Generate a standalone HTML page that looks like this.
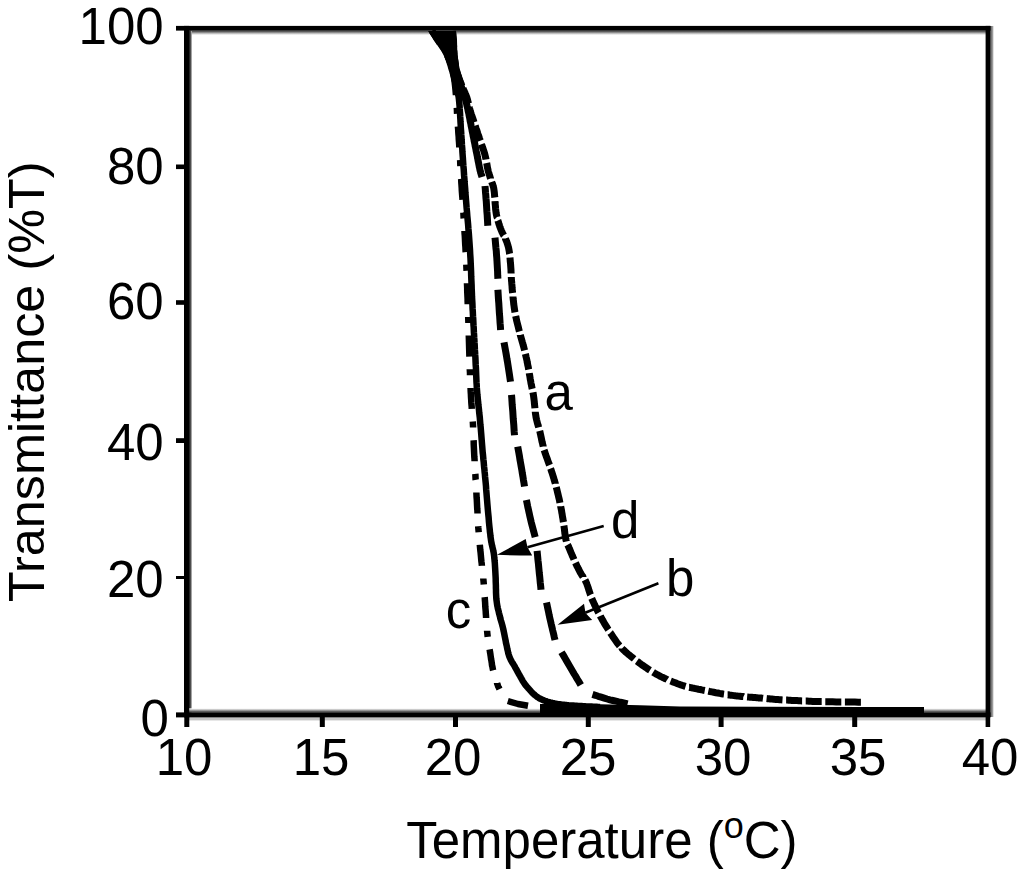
<!DOCTYPE html>
<html><head><meta charset="utf-8"><title>Transmittance vs Temperature</title>
<style>
html,body{margin:0;padding:0;background:#fff;width:1024px;height:874px;overflow:hidden;}
svg{display:block;}
text{font-family:"Liberation Sans",sans-serif;fill:#000;}
</style></head><body>
<svg width="1024" height="874" viewBox="0 0 1024 874">
<rect x="0" y="0" width="1024" height="874" fill="#fff"/>
<!-- gray fringes -->
<defs>
<linearGradient id="gTop" x1="0" y1="0" x2="0" y2="1"><stop offset="0" stop-color="#2a2a2a"/><stop offset="0.35" stop-color="#777"/><stop offset="0.7" stop-color="#c8c8c8"/><stop offset="1" stop-color="#fff"/></linearGradient>
<linearGradient id="gBot" x1="0" y1="1" x2="0" y2="0"><stop offset="0" stop-color="#2a2a2a"/><stop offset="0.35" stop-color="#777"/><stop offset="0.7" stop-color="#c8c8c8"/><stop offset="1" stop-color="#fff"/></linearGradient>
<linearGradient id="gLeft" x1="0" y1="0" x2="1" y2="0"><stop offset="0" stop-color="#222"/><stop offset="0.6" stop-color="#555"/><stop offset="1" stop-color="#ddd"/></linearGradient>
<linearGradient id="gRight" x1="0" y1="0" x2="1" y2="0"><stop offset="0" stop-color="#555"/><stop offset="0.6" stop-color="#8a8a8a"/><stop offset="1" stop-color="#e0e0e0"/></linearGradient>
</defs>
<rect x="189" y="30.5" width="797" height="4.5" fill="url(#gTop)"/>
<rect x="189" y="30.5" width="3" height="682" fill="url(#gLeft)"/>
<rect x="189" y="708.3" width="797" height="4.2" fill="url(#gBot)"/>
<rect x="186" y="717.4" width="800" height="3" fill="#c4c4c4"/>
<rect x="990" y="26" width="3.7" height="691" fill="url(#gRight)"/>
<!-- frame -->
<g fill="#000">
<rect x="176" y="25.9" width="814.5" height="4.7"/>
<rect x="184" y="25.9" width="5.2" height="691.5"/>
<rect x="176" y="712.4" width="814.5" height="5"/>
<rect x="985.6" y="25.9" width="4.6" height="701.1"/>
<!-- y ticks -->
<rect x="176" y="164.5" width="10" height="4.6"/>
<rect x="176" y="300.2" width="10" height="4.6"/>
<rect x="176" y="438.2" width="10" height="4.8"/>
<rect x="176" y="576" width="10" height="3"/>
<!-- x ticks -->
<rect x="184.3" y="715" width="5" height="12"/>
<rect x="319.8" y="715" width="5" height="12"/>
<rect x="453" y="715" width="5" height="12"/>
<rect x="585.8" y="715" width="5" height="12"/>
<rect x="718.6" y="715" width="5" height="12"/>
<rect x="852.2" y="715" width="5" height="12"/>
</g>
<!-- tick labels -->
<g font-size="51" text-anchor="end">
<text x="163.7" y="44.3">100</text>
<text x="163.7" y="184.2">80</text>
<text x="163.7" y="319.3">60</text>
<text x="163.7" y="459.5">40</text>
<text x="163.7" y="597.2">20</text>
<text x="168.8" y="735.8">0</text>
</g>
<g font-size="51" text-anchor="middle">
<text x="184" y="775">10</text>
<text x="321" y="775">15</text>
<text x="453" y="775">20</text>
<text x="588" y="775">25</text>
<text x="723" y="775">30</text>
<text x="858" y="775">35</text>
<text x="990" y="775">40</text>
</g>
<!-- axis titles -->
<text font-size="51" x="406.2" y="858.2">Temperature (<tspan font-size="36" dy="-20.3">o</tspan><tspan dy="20.3">C)</tspan></text>
<text font-size="50.4" transform="translate(43.6,602) rotate(-90)">Transmittance (%T)</text>

<!-- curves -->
<g id="curves" fill="none" stroke="#000" stroke-linecap="butt" stroke-linejoin="round">
<path d="M428 31 L456 31 L457 40 L457.4 55 L459.8 70 L463 80 L466 92 L456 92 L453 85 L449.5 70 L444 55 L433.7 40 Z" fill="#000" stroke="none"/>
<path d="M540 704 L560 703.8 L600 704.3 L640 705.3 L680 706.4 L760 706.8 L862 706.9 L924 707 L924 713 L540 713 Z" fill="#000" stroke="none"/>
<path d="M432.0 31.0 L432.7 31.9 L433.3 32.8 L434.0 33.7 L434.7 34.6 L435.4 35.5 L436.1 36.4 L436.7 37.3 L437.4 38.2 L438.1 39.1 L438.7 40.1 L439.4 41.0 L440.0 42.0 L440.6 43.0 L441.2 44.0 L441.9 45.1 L442.5 46.1 L443.1 47.2 L443.7 48.2 L444.3 49.3 L444.9 50.4 L445.4 51.6 L446.0 52.7 L446.5 53.8 L447.0 55.0 L447.5 56.2 L448.0 57.4 L448.4 58.6 L448.9 59.9 L449.3 61.1 L449.7 62.4 L450.1 63.6 L450.5 64.9 L450.9 66.2 L451.2 67.5 L451.6 68.7 L452.0 70.0 L452.4 71.2 L452.7 72.5 L453.1 73.8 L453.4 75.0 L453.8 76.2 L454.1 77.5 L454.5 78.8 L454.8 80.0 L455.1 81.2 L455.4 82.5 L455.7 83.8 L456.0 85.0 L456.3 86.2 L456.6 87.3 L456.8 88.4 L457.1 89.4 L457.4 90.5 L457.6 91.6 L457.9 92.7 L458.1 93.9 L458.3 95.2 L458.6 96.6 L458.8 98.2 L459.0 100.0 L459.2 102.0 L459.4 104.1 L459.6 106.4 L459.7 108.9 L459.9 111.4 L460.1 114.1 L460.2 116.7 L460.4 119.4 L460.5 122.1 L460.7 124.8 L460.8 127.5 L461.0 130.0 L461.2 132.5 L461.3 134.9 L461.5 137.3 L461.6 139.6 L461.8 142.0 L461.9 144.4 L462.1 146.8 L462.3 149.3 L462.4 151.8 L462.6 154.4 L462.8 157.1 L463.0 160.0 L463.2 163.0 L463.4 166.0 L463.7 169.1 L463.9 172.2 L464.1 175.5 L464.4 178.8 L464.6 182.1 L464.9 185.6 L465.2 189.1 L465.4 192.6 L465.7 196.3 L466.0 200.0 L466.3 203.8 L466.6 207.8 L467.0 211.8 L467.3 215.9 L467.7 220.1 L468.1 224.4 L468.4 228.7 L468.8 233.0 L469.1 237.3 L469.4 241.6 L469.7 245.8 L470.0 250.0 L470.2 254.2 L470.5 258.6 L470.7 263.0 L470.9 267.4 L471.1 271.8 L471.2 276.2 L471.4 280.6 L471.6 284.8 L471.7 288.9 L471.9 292.8 L472.0 296.5 L472.2 300.0 L472.4 303.2 L472.5 306.2 L472.6 308.9 L472.8 311.5 L472.9 313.9 L473.0 316.2 L473.2 318.5 L473.3 320.7 L473.4 323.0 L473.5 325.2 L473.7 327.6 L473.8 330.0 L473.9 332.5 L474.1 335.0 L474.2 337.5 L474.4 340.0 L474.5 342.5 L474.7 345.0 L474.8 347.5 L474.9 350.0 L475.1 352.5 L475.2 355.0 L475.4 357.5 L475.5 360.0 L475.6 362.5 L475.7 365.0 L475.9 367.5 L476.0 370.0 L476.1 372.5 L476.2 375.0 L476.3 377.5 L476.4 380.0 L476.5 382.5 L476.7 385.0 L476.8 387.5 L477.0 390.0 L477.2 392.5 L477.4 395.0 L477.7 397.5 L477.9 400.0 L478.2 402.5 L478.4 405.0 L478.7 407.5 L479.0 410.0 L479.2 412.5 L479.5 415.0 L479.8 417.5 L480.0 420.0 L480.2 422.5 L480.4 425.0 L480.7 427.5 L480.9 430.0 L481.1 432.5 L481.3 435.0 L481.5 437.5 L481.7 440.0 L481.9 442.5 L482.1 445.0 L482.3 447.5 L482.5 450.0 L482.7 452.5 L483.0 454.9 L483.2 457.3 L483.4 459.6 L483.7 462.0 L483.9 464.4 L484.1 466.8 L484.4 469.3 L484.6 471.8 L484.9 474.4 L485.1 477.1 L485.4 480.0 L485.7 483.0 L486.0 486.3 L486.2 489.8 L486.5 493.3 L486.8 497.0 L487.1 500.6 L487.4 504.2 L487.7 507.8 L488.0 511.2 L488.3 514.4 L488.6 517.3 L488.8 520.0 L489.0 522.4 L489.2 524.5 L489.4 526.5 L489.6 528.3 L489.8 530.0 L489.9 531.6 L490.1 533.0 L490.3 534.4 L490.4 535.8 L490.6 537.2 L490.8 538.6 L491.0 540.0 L491.2 541.4 L491.5 542.7 L491.7 544.0 L492.0 545.2 L492.3 546.4 L492.5 547.5 L492.8 548.6 L493.1 549.8 L493.3 551.0 L493.6 552.3 L493.8 553.6 L494.0 555.0 L494.2 556.5 L494.3 558.0 L494.5 559.5 L494.6 561.1 L494.8 562.7 L494.9 564.4 L495.0 566.1 L495.1 567.8 L495.2 569.5 L495.3 571.3 L495.4 573.1 L495.5 575.0 L495.6 576.9 L495.7 579.0 L495.7 581.1 L495.8 583.3 L495.9 585.6 L495.9 587.8 L496.0 590.0 L496.0 592.2 L496.1 594.3 L496.2 596.4 L496.3 598.3 L496.5 600.0 L496.7 601.6 L496.9 603.1 L497.1 604.5 L497.3 605.8 L497.6 607.1 L497.8 608.2 L498.1 609.4 L498.4 610.5 L498.7 611.6 L498.9 612.7 L499.2 613.9 L499.5 615.0 L499.8 616.1 L500.1 617.2 L500.3 618.3 L500.6 619.3 L500.9 620.4 L501.2 621.4 L501.5 622.4 L501.8 623.4 L502.1 624.5 L502.4 625.6 L502.7 626.8 L503.0 628.0 L503.3 629.3 L503.6 630.7 L503.9 632.1 L504.2 633.6 L504.5 635.1 L504.8 636.6 L505.1 638.1 L505.4 639.6 L505.7 641.0 L505.9 642.4 L506.2 643.7 L506.5 645.0 L506.8 646.2 L507.0 647.3 L507.2 648.4 L507.4 649.4 L507.7 650.5 L507.9 651.4 L508.1 652.4 L508.3 653.3 L508.6 654.3 L508.9 655.2 L509.2 656.1 L509.5 657.0 L509.9 657.9 L510.3 658.8 L510.7 659.7 L511.2 660.5 L511.6 661.4 L512.1 662.2 L512.6 663.0 L513.1 663.8 L513.6 664.6 L514.1 665.4 L514.6 666.2 L515.0 667.0 L515.4 667.8 L515.9 668.6 L516.3 669.3 L516.7 670.1 L517.1 670.8 L517.5 671.6 L517.9 672.3 L518.3 673.0 L518.7 673.8 L519.1 674.5 L519.6 675.3 L520.0 676.0 L520.4 676.7 L520.8 677.5 L521.2 678.2 L521.6 678.9 L522.0 679.6 L522.4 680.4 L522.8 681.1 L523.3 681.9 L523.8 682.6 L524.3 683.4 L524.9 684.2 L525.5 685.0 L526.2 685.9 L527.0 686.8 L527.8 687.7 L528.6 688.7 L529.5 689.7 L530.4 690.7 L531.3 691.7 L532.3 692.7 L533.2 693.6 L534.2 694.5 L535.1 695.3 L536.0 696.0 L536.9 696.7 L537.8 697.3 L538.6 697.8 L539.5 698.3 L540.4 698.8 L541.3 699.2 L542.2 699.7 L543.1 700.1 L544.0 700.4 L545.0 700.8 L546.0 701.1 L547.0 701.5 L548.0 701.8 L549.1 702.2 L550.2 702.5 L551.3 702.7 L552.4 703.0 L553.5 703.2 L554.7 703.5 L555.9 703.7 L557.1 703.9 L558.3 704.1 L559.6 704.3 L561.0 704.5 L562.4 704.7 L563.9 704.8 L565.4 705.0 L566.9 705.1 L568.5 705.3 L570.1 705.4 L571.8 705.5 L573.4 705.6 L575.1 705.7 L576.7 705.8 L578.4 705.9 L580.0 706.0 L581.6 706.1 L583.3 706.2 L584.9 706.3 L586.6 706.4 L588.3 706.5 L589.9 706.5 L591.6 706.6 L593.3 706.7 L595.0 706.8 L596.7 706.8 L598.3 706.9 L600.0 707.0" stroke-width="6.5"/>
<path d="M432.0 31.0 L432.5 31.7 L432.9 32.4 L433.3 33.1 L433.7 33.8 L434.1 34.4 L434.6 35.1 L435.0 35.8 L435.5 36.6 L435.9 37.3 L436.4 38.2 L437.0 39.0 L437.6 40.0 L438.3 41.0 L439.0 42.2 L439.5 42.9 M447.2 55.5 L447.6 56.2 L448.2 57.4 L448.7 58.6 L449.2 59.8 L449.7 61.0 L449.9 61.5 M453.4 74.2 L453.4 74.4 L453.7 75.9 L454.0 77.5 L454.2 79.1 L454.4 80.7 L454.7 82.4 L454.9 84.2 L455.1 86.0 L455.3 88.0 L455.5 90.0 L455.7 92.1 L455.9 94.4 L455.9 95.2 M456.8 107.8 L456.9 109.6 L457.0 112.3 L457.1 113.8 M457.9 126.5 L458.0 127.4 L458.2 129.8 L458.3 132.2 L458.5 134.7 L458.7 137.1 L458.8 139.6 L459.0 142.1 L459.2 144.7 L459.3 147.3 L459.3 147.5 M460.1 160.1 L460.2 161.5 L460.3 164.5 L460.4 166.1 M461.1 178.8 L461.2 179.4 L461.3 182.2 L461.5 185.0 L461.7 187.7 L461.8 190.3 L462.0 193.0 L462.2 195.6 L462.4 198.1 L462.5 199.8 M463.3 212.4 L463.4 212.7 L463.5 215.0 L463.6 217.3 L463.7 218.4 M464.5 231.1 L464.5 231.7 L464.6 233.7 L464.8 235.8 L464.9 237.9 L465.0 240.0 L465.1 242.2 L465.2 244.4 L465.4 246.6 L465.5 248.8 L465.6 251.1 L465.7 252.1 M466.3 264.7 L466.3 264.7 L466.4 267.0 L466.5 269.3 L466.6 270.7 M467.0 283.3 L467.0 283.5 L467.1 285.9 L467.2 288.2 L467.2 290.5 L467.3 292.8 L467.4 295.0 L467.5 297.1 L467.6 299.2 L467.6 301.1 L467.7 303.0 L467.7 304.3 M468.2 317.0 L468.2 317.4 L468.3 320.0 L468.4 322.8 L468.4 323.0 M468.8 335.6 L468.8 335.8 L468.9 339.2 L469.0 342.8 L469.1 346.3 L469.2 349.9 L469.3 353.3 L469.4 356.6 M469.8 369.3 L469.8 369.7 L470.0 372.9 L470.0 375.3 M470.6 387.9 L470.6 388.5 L470.7 391.4 L470.9 394.2 L471.0 397.0 L471.2 399.7 L471.3 402.2 L471.5 404.7 L471.7 407.1 L471.8 408.9 M472.8 421.6 L472.9 422.8 L473.0 425.0 L473.1 427.2 L473.1 427.6 M473.6 440.2 L473.7 441.6 L473.7 443.7 L473.8 445.8 L473.9 447.9 L474.0 450.0 L474.1 452.2 L474.2 454.4 L474.3 456.6 L474.5 458.9 L474.6 461.1 L474.6 461.2 M475.3 473.9 L475.4 474.7 L475.5 477.0 L475.6 479.3 L475.7 479.9 M476.4 492.5 L476.4 492.8 L476.5 495.1 L476.6 497.3 L476.8 499.6 L476.9 501.8 L477.0 504.0 L477.1 506.2 L477.2 508.4 L477.4 510.5 L477.5 512.7 L477.5 513.5 M478.2 526.2 L478.3 527.8 L478.5 530.0 L478.7 532.2 M479.8 544.8 L479.9 545.8 L480.1 548.0 L480.3 550.3 L480.6 552.5 L480.8 554.8 L481.0 557.0 L481.2 559.2 L481.4 561.4 L481.7 563.6 L481.9 565.7 L481.9 565.8 M483.3 578.5 L483.3 578.7 L483.5 580.8 L483.7 583.0 L483.8 584.5 M484.7 597.1 L484.8 598.2 L484.9 600.3 L485.1 602.5 L485.2 604.7 L485.3 606.8 L485.5 609.0 L485.7 611.2 L485.8 613.4 L486.0 615.6 L486.1 617.9 L486.1 618.1 M487.1 630.8 L487.1 631.0 L487.3 633.0 L487.5 635.0 L487.7 636.8 M489.6 649.4 L489.8 650.5 L490.0 652.0 L490.3 653.5 L490.5 655.0 L490.7 656.4 L490.9 657.8 L491.1 659.2 L491.4 660.6 L491.6 661.9 L491.8 663.1 L491.9 664.4 L492.1 665.6 L492.4 666.7 L492.6 667.8 L492.8 668.9 L493.0 670.0 L493.1 670.4 M497.1 683.1 L497.1 683.3 L497.4 684.1 L497.7 684.9 L498.0 685.8 L498.3 686.6 L498.7 687.4 L499.1 688.3 L499.5 689.1 M507.8 701 L518 704 L528 705.8" stroke-width="6.5"/>
<path d="M452.0 31.0 L452.1 32.2 L452.2 33.3 L452.2 34.5 L452.3 35.7 L452.4 36.9 L452.5 38.1 L452.6 39.2 L452.7 40.4 L452.8 41.6 L452.8 42.7 L452.9 43.9 L453.0 45.0 L453.1 46.1 L453.1 47.2 L453.2 48.3 L453.3 49.4 L453.3 50.4 L453.4 51.5 L453.5 52.6 L453.6 53.6 L453.6 54.7 L453.7 55.8 L453.9 56.9 L454.0 58.0 L454.1 59.1 L454.3 60.3 L454.5 61.4 L454.6 62.6 L454.8 63.8 L455.0 64.9 L455.2 66.1 L455.5 67.3 L455.7 68.5 L456.0 69.7 L456.2 70.8 L456.5 72.0 L456.8 73.2 L457.1 74.4 L457.5 75.5 L457.9 76.7 L458.3 77.9 L458.7 79.1 L459.1 80.3 L459.5 81.5 L459.9 82.6 L460.3 83.8 L460.6 84.9 L461.0 86.0 L461.4 87.1 L461.7 88.1 L462.1 89.1 L462.4 90.1 L462.8 91.1 L463.1 92.1 L463.4 93.1 L463.8 94.1 L464.1 95.0 L464.4 96.0 L464.7 97.0 L465.0 98.0 L465.3 99.0 L465.6 100.0 L465.8 100.9 L466.1 101.9 L466.3 102.8 L466.6 103.8 L466.8 104.8 L467.0 105.8 L467.3 106.8 L467.5 107.8 L467.8 108.9 L468.0 110.0 L468.2 111.1 L468.5 112.3 L468.8 113.5 L469.0 114.8 L469.2 116.0 L469.5 117.3 L469.8 118.6 L470.0 119.9 L470.2 121.2 L470.5 122.5 L470.8 123.7 L471.0 125.0 L471.2 126.2 L471.5 127.5 L471.8 128.8 L472.0 130.0 L472.2 131.2 L472.5 132.5 L472.8 133.8 L473.0 135.0 L473.2 136.2 L473.5 137.5 L473.8 138.8 L474.0 140.0 L474.2 141.2 L474.5 142.5 L474.8 143.8 L475.0 145.0 L475.2 146.2 L475.5 147.5 L475.8 148.8 L476.0 150.0 L476.2 151.2 L476.5 152.5 L476.8 153.8 L477.0 155.0 L477.3 156.3 L477.5 157.6 L477.8 158.9 L478.0 160.3 L478.3 161.7 L478.6 163.0 L478.8 164.3 L479.1 165.6 L479.3 166.8 L479.6 168.0 L479.8 169.0 L480.0 170.0 L480.2 170.9 L480.4 171.6 L480.6 172.3 L480.7 172.9 L480.9 173.5 L481.1 174.0 L481.2 174.5 L481.4 175.0 L481.5 175.4 L481.7 175.9 L481.8 176.4 L482.0 177.0 M485.0 186.0 L485.3 189.1 L485.5 192.3 L485.8 195.4 L486.0 198.5 L486.3 201.7 L486.5 205.0 L486.7 208.4 L486.9 211.8 L487.2 215.2 L487.4 218.7 L487.6 222.2 L487.8 225.7 M495.0 237.6 L495.3 241.0 L495.6 244.4 L495.9 247.8 L496.3 251.2 L496.5 254.6 L496.8 258.0 L497.0 261.4 L497.2 264.9 L497.4 268.4 L497.6 271.9 L497.7 275.3 L497.9 278.8 M497.9 289.7 L498.1 293.1 L498.3 296.5 L498.5 299.9 L498.8 303.3 L499.0 306.6 L499.2 310.0 L499.4 313.4 L499.7 316.7 L499.9 320.0 L500.1 323.3 L500.4 326.7 L500.6 330.0 M504.0 342.4 L504.6 345.7 L505.2 348.9 L505.8 352.2 L506.4 355.5 L506.9 358.7 L507.5 362.0 L508.0 365.3 L508.5 368.6 L509.0 371.8 L509.5 375.1 L510.0 378.4 L510.5 381.7 M511.5 394.9 L511.8 398.2 L512.0 401.6 L512.2 404.9 L512.5 408.3 L512.8 411.6 L513.0 415.0 L513.2 418.4 L513.5 421.7 L513.8 425.1 L514.0 428.5 L514.2 431.8 L514.5 435.2 M517.7 446.6 L518.3 449.9 L518.9 453.2 L519.5 456.5 L520.0 459.9 L520.6 463.2 L521.2 466.5 L521.8 469.8 L522.3 473.2 L522.9 476.5 L523.4 479.8 L524.0 483.2 L524.5 486.5 M526.4 500.1 L527.1 503.3 L527.7 506.4 L528.4 509.6 L529.1 512.8 L529.8 515.9 L530.5 519.0 L531.2 522.1 L532.0 525.1 L532.8 528.1 L533.6 531.2 L534.4 534.2 L535.2 537.2 M537.1 550.8 L537.4 554.0 L537.7 557.2 L538.0 560.4 L538.4 563.6 L538.7 566.8 L539.0 570.0 L539.3 573.3 L539.7 576.5 L540.0 579.8 L540.3 583.1 L540.7 586.4 L541.0 589.7 M546.5 602.5 L547.2 605.6 L547.8 608.6 L548.5 611.7 L549.1 614.8 L549.8 617.9 L550.5 621.0 L551.2 624.1 L552.0 627.3 L552.7 630.5 L553.5 633.6 L554.2 636.8 L555.0 640.0 M561.5 652.2 L563.1 654.9 L564.7 657.6 L566.2 660.3 L567.8 663.1 L569.4 665.8 L571.0 668.5 L572.6 671.2 L574.2 674.0 L575.9 676.7 L577.5 679.5 L579.2 682.2 L580.8 685.0 M592.5 694.4 L595.4 695.3 L598.3 696.3 L601.2 697.2 L604.2 698.1 L607.1 699.0 L610.0 699.8 L612.9 700.5 L615.9 701.2 L618.8 701.9 L621.7 702.5 L624.7 703.1 L627.6 703.8" stroke-width="7"/>
<path d="M452.5 31.0 L452.6 32.2 L452.7 33.3 L452.8 34.5 L452.8 35.7 L452.9 36.9 L453.0 38.1 L453.1 39.2 L453.2 40.4 L453.2 41.6 L453.3 42.7 L453.4 43.9 L453.5 45.0 L453.6 46.1 L453.6 47.0 M453.8 50.6 L453.9 51.5 L454.0 52.6 L454.1 53.6 L454.1 54.7 L454.2 55.8 L454.4 56.9 L454.5 58.0 L454.6 59.1 L454.8 60.3 L455.0 61.4 L455.1 62.6 L455.3 63.8 L455.5 64.9 L455.7 66.1 L455.8 66.4 M456.5 70.0 L456.7 70.8 L457.0 72.0 L457.3 73.2 L457.7 74.4 L458.1 75.5 L458.5 76.7 L458.9 77.9 L459.3 79.1 L459.8 80.3 L460.2 81.5 L460.7 82.6 L461.1 83.8 L461.6 84.9 L461.6 85.1 M463.0 88.4 L463.3 89.1 L463.7 90.1 L464.2 91.1 L464.6 92.1 L465.1 93.1 L465.5 94.1 L465.9 95.0 L466.3 96.0 L466.7 97.0 L467.0 98.0 L467.3 99.0 L467.6 100.0 L467.8 100.9 L468.1 101.9 L468.3 102.8 L468.4 103.4 M469.2 106.9 L469.4 107.8 L469.7 108.9 L470.0 110.0 L470.3 111.1 L470.7 112.3 L471.1 113.5 L471.5 114.8 L471.9 116.0 L472.4 117.3 L472.8 118.6 L473.3 119.9 L473.7 121.2 L474.0 122.2 M475.2 125.6 L475.4 126.2 L475.8 127.5 L476.2 128.8 L476.7 130.0 L477.1 131.2 L477.5 132.5 L477.9 133.8 L478.3 135.0 L478.8 136.2 L479.2 137.5 L479.6 138.8 L480.0 140.0 L480.3 140.8 M481.4 144.2 L481.7 145.0 L482.2 146.2 L482.6 147.5 L483.1 148.8 L483.5 150.0 L483.9 151.2 L484.3 152.5 L484.7 153.8 L485.0 155.0 L485.3 156.3 L485.6 157.6 L485.9 158.9 L486.0 159.5 M486.7 163.0 L486.9 164.1 L487.1 165.4 L487.3 166.6 L487.5 167.8 L487.8 168.9 L488.0 170.0 L488.2 171.0 L488.5 172.0 L488.8 172.9 L489.0 173.7 L489.2 174.5 L489.5 175.3 L489.8 176.1 L490.0 176.9 L490.2 177.6 L490.5 178.4 L490.5 178.5 M491.7 181.9 L491.8 182.2 L492.0 182.9 L492.3 183.6 L492.6 184.2 L492.8 185.0 L493.1 185.8 L493.3 186.7 L493.6 187.6 L493.8 188.7 L494.0 190.0 L494.2 191.4 L494.4 193.1 L494.5 194.9 L494.7 196.8 L494.8 197.5 M495.0 201.1 L495.1 202.9 L495.3 205.0 L495.5 206.9 L495.6 208.8 L495.8 210.5 L496.0 212.0 L496.2 213.4 L496.4 214.6 L496.7 215.8 L496.9 216.9 L497.0 217.0 M497.9 220.5 L498.0 220.7 L498.2 221.5 L498.5 222.3 L498.7 223.2 L499.0 224.0 L499.2 224.8 L499.5 225.6 L499.7 226.3 L500.0 227.0 L500.2 227.6 L500.4 228.2 L500.7 228.9 L500.9 229.5 L501.2 230.1 L501.4 230.7 L501.7 231.3 L502.0 232.0 L502.3 232.7 L502.6 233.3 L503.0 234.0 L503.3 234.6 L503.6 235.2 L503.7 235.3 M505.4 238.5 L505.4 238.6 L505.7 239.3 L506.0 240.0 L506.3 240.7 L506.6 241.5 L506.9 242.2 L507.1 243.0 L507.4 243.7 L507.6 244.5 L507.9 245.3 L508.1 246.1 L508.4 247.0 L508.6 248.0 L508.8 249.0 L509.0 250.0 L509.2 251.1 L509.4 252.3 L509.5 253.5 L509.6 253.9 M510.0 257.5 L510.0 257.5 L510.1 258.9 L510.2 260.3 L510.3 261.7 L510.5 263.1 L510.6 264.6 L510.7 266.0 L510.8 267.4 L510.9 268.8 L511.0 270.2 L511.0 271.6 L511.1 273.0 L511.1 273.4 M511.3 277.0 L511.3 277.3 L511.4 278.9 L511.5 280.5 L511.7 282.2 L511.8 284.0 L512.0 285.9 L512.1 287.9 L512.3 290.1 L512.5 292.3 L512.6 293.0 M513.0 296.6 L513.0 296.9 L513.2 299.2 L513.5 301.5 L513.7 303.7 L514.0 305.9 L514.3 308.0 L514.6 310.0 L514.9 311.9 L515.0 312.4 M515.7 316.0 L515.9 317.1 L516.3 318.8 L516.6 320.4 L517.0 322.0 L517.4 323.6 L517.8 325.1 L518.2 326.7 L518.6 328.4 L519.0 330.0 L519.4 331.5 M520.3 335.0 L520.3 335.1 L520.8 336.8 L521.3 338.5 L521.8 340.2 L522.3 342.0 L522.8 343.6 L523.2 345.3 L523.7 346.9 L524.1 348.5 L524.5 350.0 L524.6 350.4 M525.4 353.9 L525.5 354.3 L525.8 355.6 L526.1 357.0 L526.4 358.2 L526.7 359.5 L527.0 360.8 L527.2 362.1 L527.5 363.4 L527.7 364.7 L528.0 366.0 L528.3 367.3 L528.5 368.7 L528.7 369.6 M529.3 373.1 L529.4 374.1 L529.7 375.4 L529.9 376.7 L530.1 378.1 L530.3 379.4 L530.6 380.7 L530.8 382.0 L531.0 383.3 L531.3 384.5 L531.5 385.7 L531.8 386.9 L532.0 388.1 L532.2 388.9 M532.9 392.4 L533.0 392.9 L533.3 394.2 L533.5 395.6 L533.7 397.0 L533.9 398.5 L534.1 400.1 L534.3 401.8 L534.4 403.5 L534.6 405.2 L534.8 407.0 L534.9 408.3 M535.3 411.8 L535.3 412.2 L535.5 413.9 L535.8 415.5 L536.0 417.0 L536.3 418.4 L536.6 419.8 L536.9 421.0 L537.2 422.3 L537.5 423.5 L537.9 424.7 L538.2 425.8 L538.6 427.0 L538.7 427.4 M539.7 430.9 L540.0 432.0 L540.3 433.4 L540.6 434.7 L540.9 436.2 L541.2 437.6 L541.5 439.0 L541.8 440.5 L542.1 441.9 L542.5 443.4 L542.8 444.9 L543.2 446.4 L543.2 446.5 M544.1 450.0 L544.5 451.1 L545.0 452.6 L545.5 454.2 L546.1 455.9 L546.7 457.5 L547.3 459.1 L547.9 460.8 L548.5 462.4 L549.1 464.1 L549.5 465.1 M550.6 468.5 L550.8 469.0 L551.3 470.6 L551.8 472.2 L552.4 473.9 L552.9 475.5 L553.4 477.1 L553.9 478.7 L554.3 480.3 L554.8 481.9 L555.3 483.5 L555.3 483.8 M556.3 487.2 L556.6 488.4 L557.0 490.0 L557.4 491.7 L557.8 493.3 L558.2 495.0 L558.6 496.7 L559.0 498.3 L559.4 500.0 L559.7 501.7 L559.9 502.8 M560.7 506.3 L560.7 506.5 L561.0 508.0 L561.3 509.5 L561.6 511.0 L561.8 512.5 L562.1 513.9 L562.3 515.4 L562.5 516.8 L562.8 518.2 L563.0 519.6 L563.2 521.0 L563.4 522.1 M563.9 525.7 L564.0 526.3 L564.2 527.7 L564.4 529.0 L564.5 530.4 L564.7 531.7 L564.8 533.0 L565.0 534.2 L565.2 535.5 L565.4 536.7 L565.6 537.8 L565.8 539.0 L566.0 540.0 L566.3 541.0 L566.4 541.5 M567.6 544.8 L567.6 544.8 L568.0 545.5 L568.3 546.2 L568.6 546.9 L569.0 547.7 L569.3 548.5 L569.7 549.4 L570.1 550.4 L570.5 551.4 L570.9 552.4 L571.4 553.5 L571.9 554.6 L572.3 555.7 L572.8 556.8 L573.3 557.9 L573.8 559.0 L574.0 559.5 M575.5 562.8 L575.7 563.2 L576.1 564.2 L576.6 565.1 L577.0 566.1 L577.5 567.0 L578.0 567.9 L578.4 568.8 L578.9 569.7 L579.3 570.6 L579.8 571.5 L580.2 572.4 L580.7 573.2 L581.2 574.0 L581.6 574.8 L582.1 575.5 L582.5 576.1 L583.0 576.8 L583.0 576.9 M585.0 579.9 L585.3 580.5 L585.7 581.4 L586.2 582.4 L586.7 583.5 L587.1 584.7 L587.6 586.0 L588.0 587.4 L588.5 588.8 L588.9 590.2 L589.4 591.7 L589.9 593.2 L590.4 594.7 L590.5 594.9 M591.7 598.3 L592.0 599.0 L592.6 600.4 L593.2 601.8 L593.9 603.2 L594.5 604.6 L595.2 606.0 L595.9 607.4 L596.6 608.9 L597.3 610.3 L598.0 611.7 L598.6 612.7 M600.3 615.9 L600.9 617.2 L601.7 618.5 L602.4 619.8 L603.2 621.1 L603.9 622.5 L604.7 623.8 L605.5 625.1 L606.3 626.4 L607.1 627.7 L607.9 629.0 L608.4 629.7 M610.3 632.7 L610.5 632.9 L611.3 634.3 L612.2 635.6 L613.1 637.0 L614.0 638.3 L614.9 639.6 L615.9 641.0 L616.8 642.3 L617.8 643.6 L618.8 644.9 L619.6 645.8 M622.0 648.4 L622.0 648.5 L623.1 649.6 L624.3 650.7 L625.5 651.8 L626.7 652.9 L627.9 653.9 L629.2 654.9 L630.4 656.0 L631.7 657.0 L632.9 657.9 L634.1 658.9 M636.9 661.1 L637.9 661.8 L639.1 662.8 L640.4 663.7 L641.6 664.6 L642.9 665.5 L644.2 666.4 L645.4 667.3 L646.7 668.1 L648.0 669.0 L649.2 669.8 L650.0 670.3 M653.1 672.2 L654.2 672.9 L655.4 673.6 L656.7 674.3 L657.9 674.9 L659.1 675.6 L660.4 676.3 L661.6 676.9 L662.9 677.5 L664.3 678.2 L665.6 678.8 L667.0 679.4 L667.3 679.6 M670.6 681.0 L671.4 681.3 L672.9 681.9 L674.5 682.5 L676.0 683.1 L677.5 683.7 L679.0 684.2 L680.5 684.8 L681.9 685.2 L683.3 685.7 L684.6 686.1 L685.6 686.4 M689.1 687.3 L689.4 687.3 L690.5 687.6 L691.7 687.8 L692.9 688.1 L694.1 688.3 L695.5 688.6 L696.9 688.9 L698.4 689.2 L700.1 689.5 L701.8 689.9 L703.7 690.3 L704.8 690.5 M708.3 691.2 L709.7 691.5 L711.8 691.9 L713.8 692.3 L715.9 692.7 L717.8 693.0 L719.7 693.4 L721.5 693.7 L723.2 694.0 L724.0 694.1 M727.6 694.7 L728.0 694.7 L729.5 695.0 L730.9 695.2 L732.4 695.4 L733.9 695.6 L735.4 695.8 L736.9 695.9 L738.4 696.1 L740.0 696.3 L741.6 696.5 L743.3 696.6 L743.5 696.7 M747.1 697.0 L748.3 697.1 L750.0 697.2 L751.7 697.3 L753.4 697.5 L755.1 697.6 L756.8 697.7 L758.4 697.9 L760.0 698.0 L761.6 698.1 L763.0 698.3 M766.6 698.6 L767.6 698.7 L769.1 698.8 L770.5 699.0 L772.0 699.1 L773.5 699.2 L775.0 699.4 L776.5 699.5 L778.0 699.6 L779.5 699.7 L781.1 699.8 L782.5 699.9 M786.1 700.1 L787.2 700.1 L788.7 700.2 L790.3 700.3 L791.9 700.4 L793.6 700.4 L795.3 700.5 L797.0 700.6 L798.7 700.7 L800.4 700.8 L802.0 700.9 L802.1 700.9 M805.7 701.1 L807.1 701.1 L808.9 701.2 L810.8 701.3 L812.8 701.4 L815.0 701.5 L817.4 701.5 L820.0 701.6 L821.7 701.6 M825.3 701.7 L825.9 701.7 L829.2 701.8 L832.6 701.8 L836.2 701.9 L839.8 701.9 L841.3 701.9 M844.9 702.0 L847.3 702.0 L851.1 702.1 L854.8 702.1 L858.4 702.2 L860.9 702.2" stroke-width="7"/>
</g>
<!-- arrows -->
<g fill="#000" stroke="none">
<path d="M527.5 547.2 L603.7 526.1" stroke="#000" stroke-width="2.6" fill="none"/>
<path d="M497 554.8 L525.7 539 L527.5 547.2 L532.2 555.6 Q515 555.5 497 554.8 Z"/>
<path d="M585.2 612.8 L658.4 583.2" stroke="#000" stroke-width="2.6" fill="none"/>
<path d="M557.6 624.8 L584 603.7 L585.5 613 L592.2 620.1 Q575 622.5 557.6 624.8 Z"/>
</g>
<!-- labels -->
<g font-size="51">
<text x="544.5" y="410">a</text>
<text x="666" y="595.5">b</text>
<text x="445.8" y="628">c</text>
<text x="611" y="538">d</text>
</g>
</svg>
</body></html>
